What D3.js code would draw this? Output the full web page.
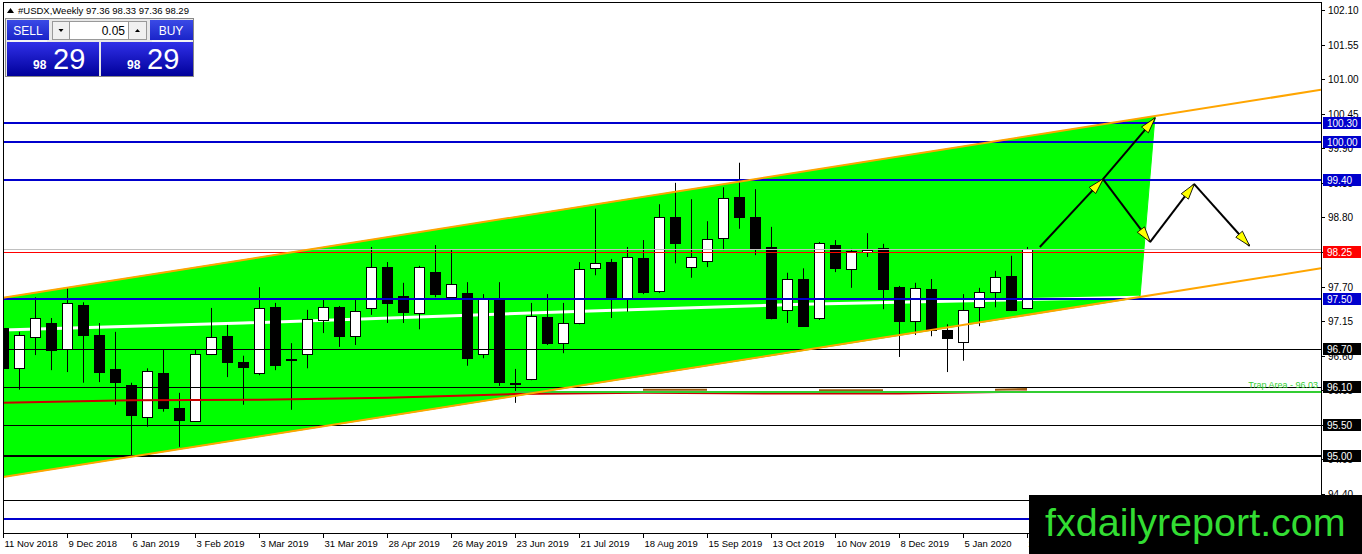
<!DOCTYPE html>
<html><head><meta charset="utf-8">
<script src="https://cdn.jsdelivr.net/npm/d3@7"></script>
<style>
body{margin:0;background:#fff;overflow:hidden;}
svg{display:block;font-family:"Liberation Sans",Arial,sans-serif;}
</style>
</head><body>
<svg id="c" width="1362" height="554"></svg>
<script>
// ---------- DATA ----------
const title = "#USDX,Weekly  97.36 98.33 97.36 98.29";
const xTickLabels = ["11 Nov 2018","9 Dec 2018","6 Jan 2019","3 Feb 2019","3 Mar 2019","31 Mar 2019","28 Apr 2019","26 May 2019","23 Jun 2019","21 Jul 2019","18 Aug 2019","15 Sep 2019","13 Oct 2019","10 Nov 2019","8 Dec 2019","5 Jan 2020","2 Feb 2020"];
const xTickWeeks = [0,4,8,12,16,20,24,28,32,36,40,44,48,52,56,60,64];
const yTickLabels = ["102.10","101.55","101.00","100.45","99.90","99.35","98.80","98.25","97.70","97.15","96.60","96.05","95.50","94.95","94.40"];

const opens  = [97.04,96.40,96.90,97.12,96.71,97.41,96.93,96.39,96.13,95.63,96.32,95.77,95.56,96.63,96.91,96.50,96.32,97.37,96.55,96.63,97.17,97.37,96.91,97.36,98.01,97.55,97.28,97.93,97.53,97.60,96.63,97.49,96.17,96.23,97.22,96.80,97.12,97.99,98.09,97.52,98.15,97.63,98.81,98.01,98.11,98.47,99.12,98.81,98.33,97.33,97.82,97.20,98.36,97.98,98.25,98.31,97.69,97.15,97.66,97.01,96.82,97.37,97.61,97.87,97.36];
const highs  = [97.08,96.98,97.53,97.20,97.69,97.45,97.12,96.98,96.17,96.40,96.69,96.01,96.69,97.36,97.09,96.60,97.69,97.44,96.80,97.33,97.50,97.39,97.49,98.33,98.09,97.76,98.03,98.36,98.28,97.77,97.58,97.77,96.39,97.44,97.58,97.44,98.09,98.94,98.14,98.33,98.44,99.01,99.35,99.09,98.74,99.28,99.67,99.25,98.65,97.92,97.99,98.41,98.44,98.30,98.55,98.38,97.71,97.76,97.82,97.10,97.58,97.68,97.95,98.19,98.33];
const lows   = [96.36,96.06,96.61,96.37,96.34,96.17,96.18,95.82,94.99,95.47,95.71,95.15,95.55,96.61,96.26,95.82,96.29,96.37,95.74,96.40,96.96,96.74,96.77,97.25,97.12,97.12,97.02,97.53,97.52,96.44,96.56,96.12,95.85,96.21,96.77,96.64,97.10,97.88,97.20,97.30,97.58,97.60,98.07,97.84,98.01,98.28,98.62,98.20,97.18,97.12,97.07,97.17,97.93,97.68,98.17,97.34,96.58,96.93,96.91,96.34,96.52,97.07,97.37,97.31,97.36];
const closes = [96.40,96.93,97.20,96.69,97.44,96.93,96.34,96.18,95.66,96.36,95.77,95.58,96.63,96.90,96.50,96.42,97.36,96.45,96.53,97.18,97.37,96.91,97.31,98.01,97.44,97.30,98.01,97.58,97.74,96.56,97.52,96.18,96.15,97.23,96.80,97.12,97.98,98.07,97.53,98.17,97.61,98.81,98.39,98.17,98.46,99.11,98.81,98.31,97.20,97.82,97.07,98.39,97.99,98.27,98.28,97.66,97.15,97.68,97.01,96.88,97.33,97.61,97.85,97.33,98.29];

// horizontal levels: price, kind
const levelPrices = [100.30,100.00,99.40,97.50,96.70,96.10,95.50,95.00,94.30,94.00];
const levelKinds  = ["blue","blue","blue","blue","black","black","black","black2","black","blue"];
const labelledLevels = [100.30,100.00,99.40,97.50,96.70,96.10,95.50,95.00];
const redLevel = 98.25;
const bidPrice = 98.29;
const trapPrice = 96.03;
const trapText = "Trap Area - 96.03";

// channel (week index, price)
const upperLine = [[0,97.52],[82.375,100.83]];
const lowerLine = [[0,94.67],[82.375,97.99]];
const channelPoly = [[0,97.52],[72,100.41],[71.06,97.53],[0,94.67]];

// moving averages (week index, price)
const whiteMA = [[0,97.01],[15,97.12],[32,97.27],[50,97.42],[71,97.53]];
const redMA = [[0,95.85],[8,95.89],[16,95.90],[24,95.93],[32,95.99],[40,96.01],[48,96.00],[56,96.00],[64,96.03]];
// short brown segments of the second average
const brownSegs = [[[40,96.06],[44,96.06]],[[51,96.05],[55,96.05]],[[62,96.06],[64,96.07]]];

// projected path arrows: [from, to] in (week index, price)
const arrowSegs = [
  [[64.8,98.33],[68.75,99.41]],
  [[68.75,99.41],[72.0,100.38]],
  [[68.75,99.41],[71.7,98.41]],
  [[71.7,98.41],[74.45,99.33]],
  [[74.45,99.33],[77.9,98.35]]
];

// ---------- LAYOUT ----------
const svg = d3.select("#c");
const L = 3, R = 1321, T = 2, B = 533;
const x = d3.scaleLinear().domain([0,82.375]).range([L,R]);
const y = d3.scaleLinear().domain([94.40,102.10]).range([494,10]);

const candles = opens.map((o,i)=>({i,o,h:highs[i],l:lows[i],c:closes[i]}));

const defs = svg.append("defs");
defs.append("clipPath").attr("id","plot")
  .append("rect").attr("x",L).attr("y",T).attr("width",R-L).attr("height",B-T);

defs.append("marker").attr("id","ah").attr("viewBox","0 0 17 11")
  .attr("markerWidth",17).attr("markerHeight",11).attr("markerUnits","userSpaceOnUse")
  .attr("refX",16).attr("refY",5.5).attr("orient","auto")
  .append("path").attr("d","M0.5,1 L16.5,5.5 L0.5,10 Z").attr("fill","#ffff00").attr("stroke","#000").attr("stroke-width",0.8);

const g = svg.append("g").attr("clip-path","url(#plot)");
const line = d3.line().x(d=>x(d[0])).y(d=>y(d[1]));

// channel fill
g.append("path").attr("d", line(channelPoly)+"Z").attr("fill","#00ff00").attr("stroke","#00ff00").attr("stroke-width",1);

// white MA
g.append("path").attr("d",d3.line().x(d=>x(d[0])).y(d=>y(d[1])).curve(d3.curveMonotoneX)(whiteMA))
  .attr("fill","none").attr("stroke","#fff").attr("stroke-width",3);

// candles
const cg = g.append("g");
candles.forEach(d=>{
  const cx = Math.round(x(d.i))+0.5;
  cg.append("line").attr("x1",cx).attr("x2",cx).attr("y1",y(d.h)).attr("y2",y(d.l)).attr("stroke","#000").attr("stroke-width",1);
  const top = Math.round(y(Math.max(d.o,d.c))), bot = Math.round(y(Math.min(d.o,d.c)));
  const up = d.c >= d.o;
  cg.append("rect").attr("x",cx-5).attr("y",top+0.5).attr("width",10).attr("height",Math.max(1,bot-top))
    .attr("fill", up?"#fff":"#000").attr("stroke","#000").attr("stroke-width",1);
});

// red MA
g.append("path").attr("d",line(redMA)).attr("fill","none").attr("stroke","#cc0000").attr("stroke-width",2);
brownSegs.forEach(s=>{
  g.append("path").attr("d",line(s)).attr("fill","none").attr("stroke","#9a5a10").attr("stroke-width",2);
});

// bid line & red level
g.append("line").attr("x1",L).attr("x2",R).attr("y1",Math.round(y(bidPrice))+0.5).attr("y2",Math.round(y(bidPrice))+0.5).attr("stroke","#c0c0c0");
g.append("line").attr("x1",L).attr("x2",R).attr("y1",Math.round(y(redLevel))+0.5).attr("y2",Math.round(y(redLevel))+0.5).attr("stroke","#ff0000");

// horizontal levels
levelPrices.forEach((p,k)=>{
  const kind = levelKinds[k];
  const col = kind==="blue" ? "#0000cd" : "#000";
  const w = (kind==="blue"||kind==="black2") ? 2 : 1;
  const yy = Math.round(y(p)) + (w===1?0.5:0);
  g.append("line").attr("x1",L).attr("x2",R).attr("y1",yy).attr("y2",yy).attr("stroke",col).attr("stroke-width",w);
});

// trap area line
g.append("line").attr("x1",x(32)).attr("x2",R).attr("y1",Math.round(y(trapPrice))).attr("y2",Math.round(y(trapPrice)))
  .attr("stroke","#32cd32").attr("stroke-width",2);
g.append("text").attr("x",R-3).attr("y",Math.round(y(trapPrice))-4).attr("text-anchor","end")
  .attr("font-size",9).attr("fill","#32cd32").text(trapText);

// channel lines
[upperLine,lowerLine].forEach(ln=>{
  g.append("path").attr("d",line(ln)).attr("fill","none").attr("stroke","#ffa500").attr("stroke-width",2);
});

// arrows
arrowSegs.forEach(s=>{
  g.append("line").attr("x1",x(s[0][0])).attr("y1",y(s[0][1])).attr("x2",x(s[1][0])).attr("y2",y(s[1][1]))
    .attr("stroke","#000").attr("stroke-width",2).attr("marker-end","url(#ah)");
});

// frame
svg.append("rect").attr("x",L+0.5).attr("y",T+0.5).attr("width",R-L).attr("height",B-T).attr("fill","none").attr("stroke","#000");

// y axis
const ya = svg.append("g").attr("font-size",10).attr("fill","#000");
yTickLabels.forEach(t=>{
  const yy = Math.round(y(+t))+0.5;
  ya.append("line").attr("x1",R).attr("x2",R+4).attr("y1",yy).attr("y2",yy).attr("stroke","#000");
  ya.append("text").attr("x",R+7).attr("y",yy+3.5).text(t);
});

// level labels
function tag(p, bg){
  const yy = Math.round(y(p));
  svg.append("rect").attr("x",R+2).attr("y",yy-6).attr("width",38).attr("height",12).attr("fill",bg);
  svg.append("text").attr("x",R+6).attr("y",yy+4).attr("font-size",10).attr("fill","#fff").text(p.toFixed(2));
}
labelledLevels.forEach((p)=>{ const k=levelPrices.indexOf(p); tag(p, levelKinds[k]==="blue"?"#0000cd":"#000"); });
tag(redLevel, "#ff0000");

// x axis
const xa = svg.append("g").attr("font-size",9.5);
xTickWeeks.forEach((w,k)=>{
  const xx = Math.round(x(w))+0.5;
  xa.append("line").attr("x1",xx).attr("x2",xx).attr("y1",B).attr("y2",B+5).attr("stroke","#000");
  xa.append("text").attr("x",xx+1).attr("y",B+14).text(xTickLabels[k]);
});

// title
svg.append("path").attr("d","M7,13 L10.5,8 L14,13 Z").attr("fill","#000");
svg.append("text").attr("x",18).attr("y",14).attr("font-size",9.5).text(title);

// trade panel
const gr = defs.append("linearGradient").attr("id","gb").attr("x1",0).attr("y1",0).attr("x2",0).attr("y2",1);
gr.append("stop").attr("offset","0").attr("stop-color","#3030e8");
gr.append("stop").attr("offset","1").attr("stop-color","#00009a");
const gr2 = defs.append("linearGradient").attr("id","gs").attr("x1",0).attr("y1",0).attr("x2",0).attr("y2",1);
gr2.append("stop").attr("offset","0").attr("stop-color","#3a4ae6");
gr2.append("stop").attr("offset","1").attr("stop-color","#1a24c8");
const P = svg.append("g");
P.append("rect").attr("x",5.5).attr("y",18.5).attr("width",188).attr("height",58).attr("fill","#e8e8e8").attr("stroke","#888");
P.append("rect").attr("x",7).attr("y",20).attr("width",42).attr("height",20).attr("fill","url(#gs)");
P.append("text").attr("x",28).attr("y",35).attr("text-anchor","middle").attr("font-size",12).attr("fill","#fff").text("SELL");
P.append("rect").attr("x",150).attr("y",20).attr("width",43).attr("height",20).attr("fill","url(#gs)");
P.append("text").attr("x",171).attr("y",35).attr("text-anchor","middle").attr("font-size",12).attr("fill","#fff").text("BUY");
P.append("rect").attr("x",52.5).attr("y",21.5).attr("width",17).attr("height",18).attr("fill","#f0f0f0").attr("stroke","#999");
P.append("path").attr("d","M58.5,29 L63.5,29 L61,32 Z").attr("fill","#000");
P.append("rect").attr("x",69.5).attr("y",21.5).attr("width",59).attr("height",18).attr("fill","#fff").attr("stroke","#999");
P.append("text").attr("x",125).attr("y",35).attr("text-anchor","end").attr("font-size",12).attr("fill","#000").text("0.05");
P.append("rect").attr("x",128.5).attr("y",21.5).attr("width",18).attr("height",18).attr("fill","#f0f0f0").attr("stroke","#999");
P.append("path").attr("d","M135,32 L140,32 L137.5,29 Z").attr("fill","#000");
P.append("rect").attr("x",7).attr("y",42).attr("width",92).attr("height",34).attr("fill","url(#gb)");
P.append("rect").attr("x",101).attr("y",42).attr("width",92).attr("height",34).attr("fill","url(#gb)");
P.append("line").attr("x1",10).attr("x2",47).attr("y1",41).attr("y2",41).attr("stroke","#fff");
P.append("line").attr("x1",152).attr("x2",191).attr("y1",41).attr("y2",41).attr("stroke","#fff");
[[7,"98","29"],[101,"98","29"]].forEach(([bx,a,b])=>{
  P.append("text").attr("x",bx+26).attr("y",69).attr("font-size",12).attr("font-weight","bold").attr("fill","#fff").text(a);
  P.append("text").attr("x",bx+46).attr("y",69).attr("font-size",29).attr("fill","#fff").text(b);
});

// logo
svg.append("rect").attr("x",1029).attr("y",495).attr("width",333).attr("height",59).attr("fill","#000");
svg.append("text").attr("x",1045).attr("y",536).attr("font-size",39.5).attr("fill","#33dd33").text("fxdailyreport.com");
</script>
</body></html>
